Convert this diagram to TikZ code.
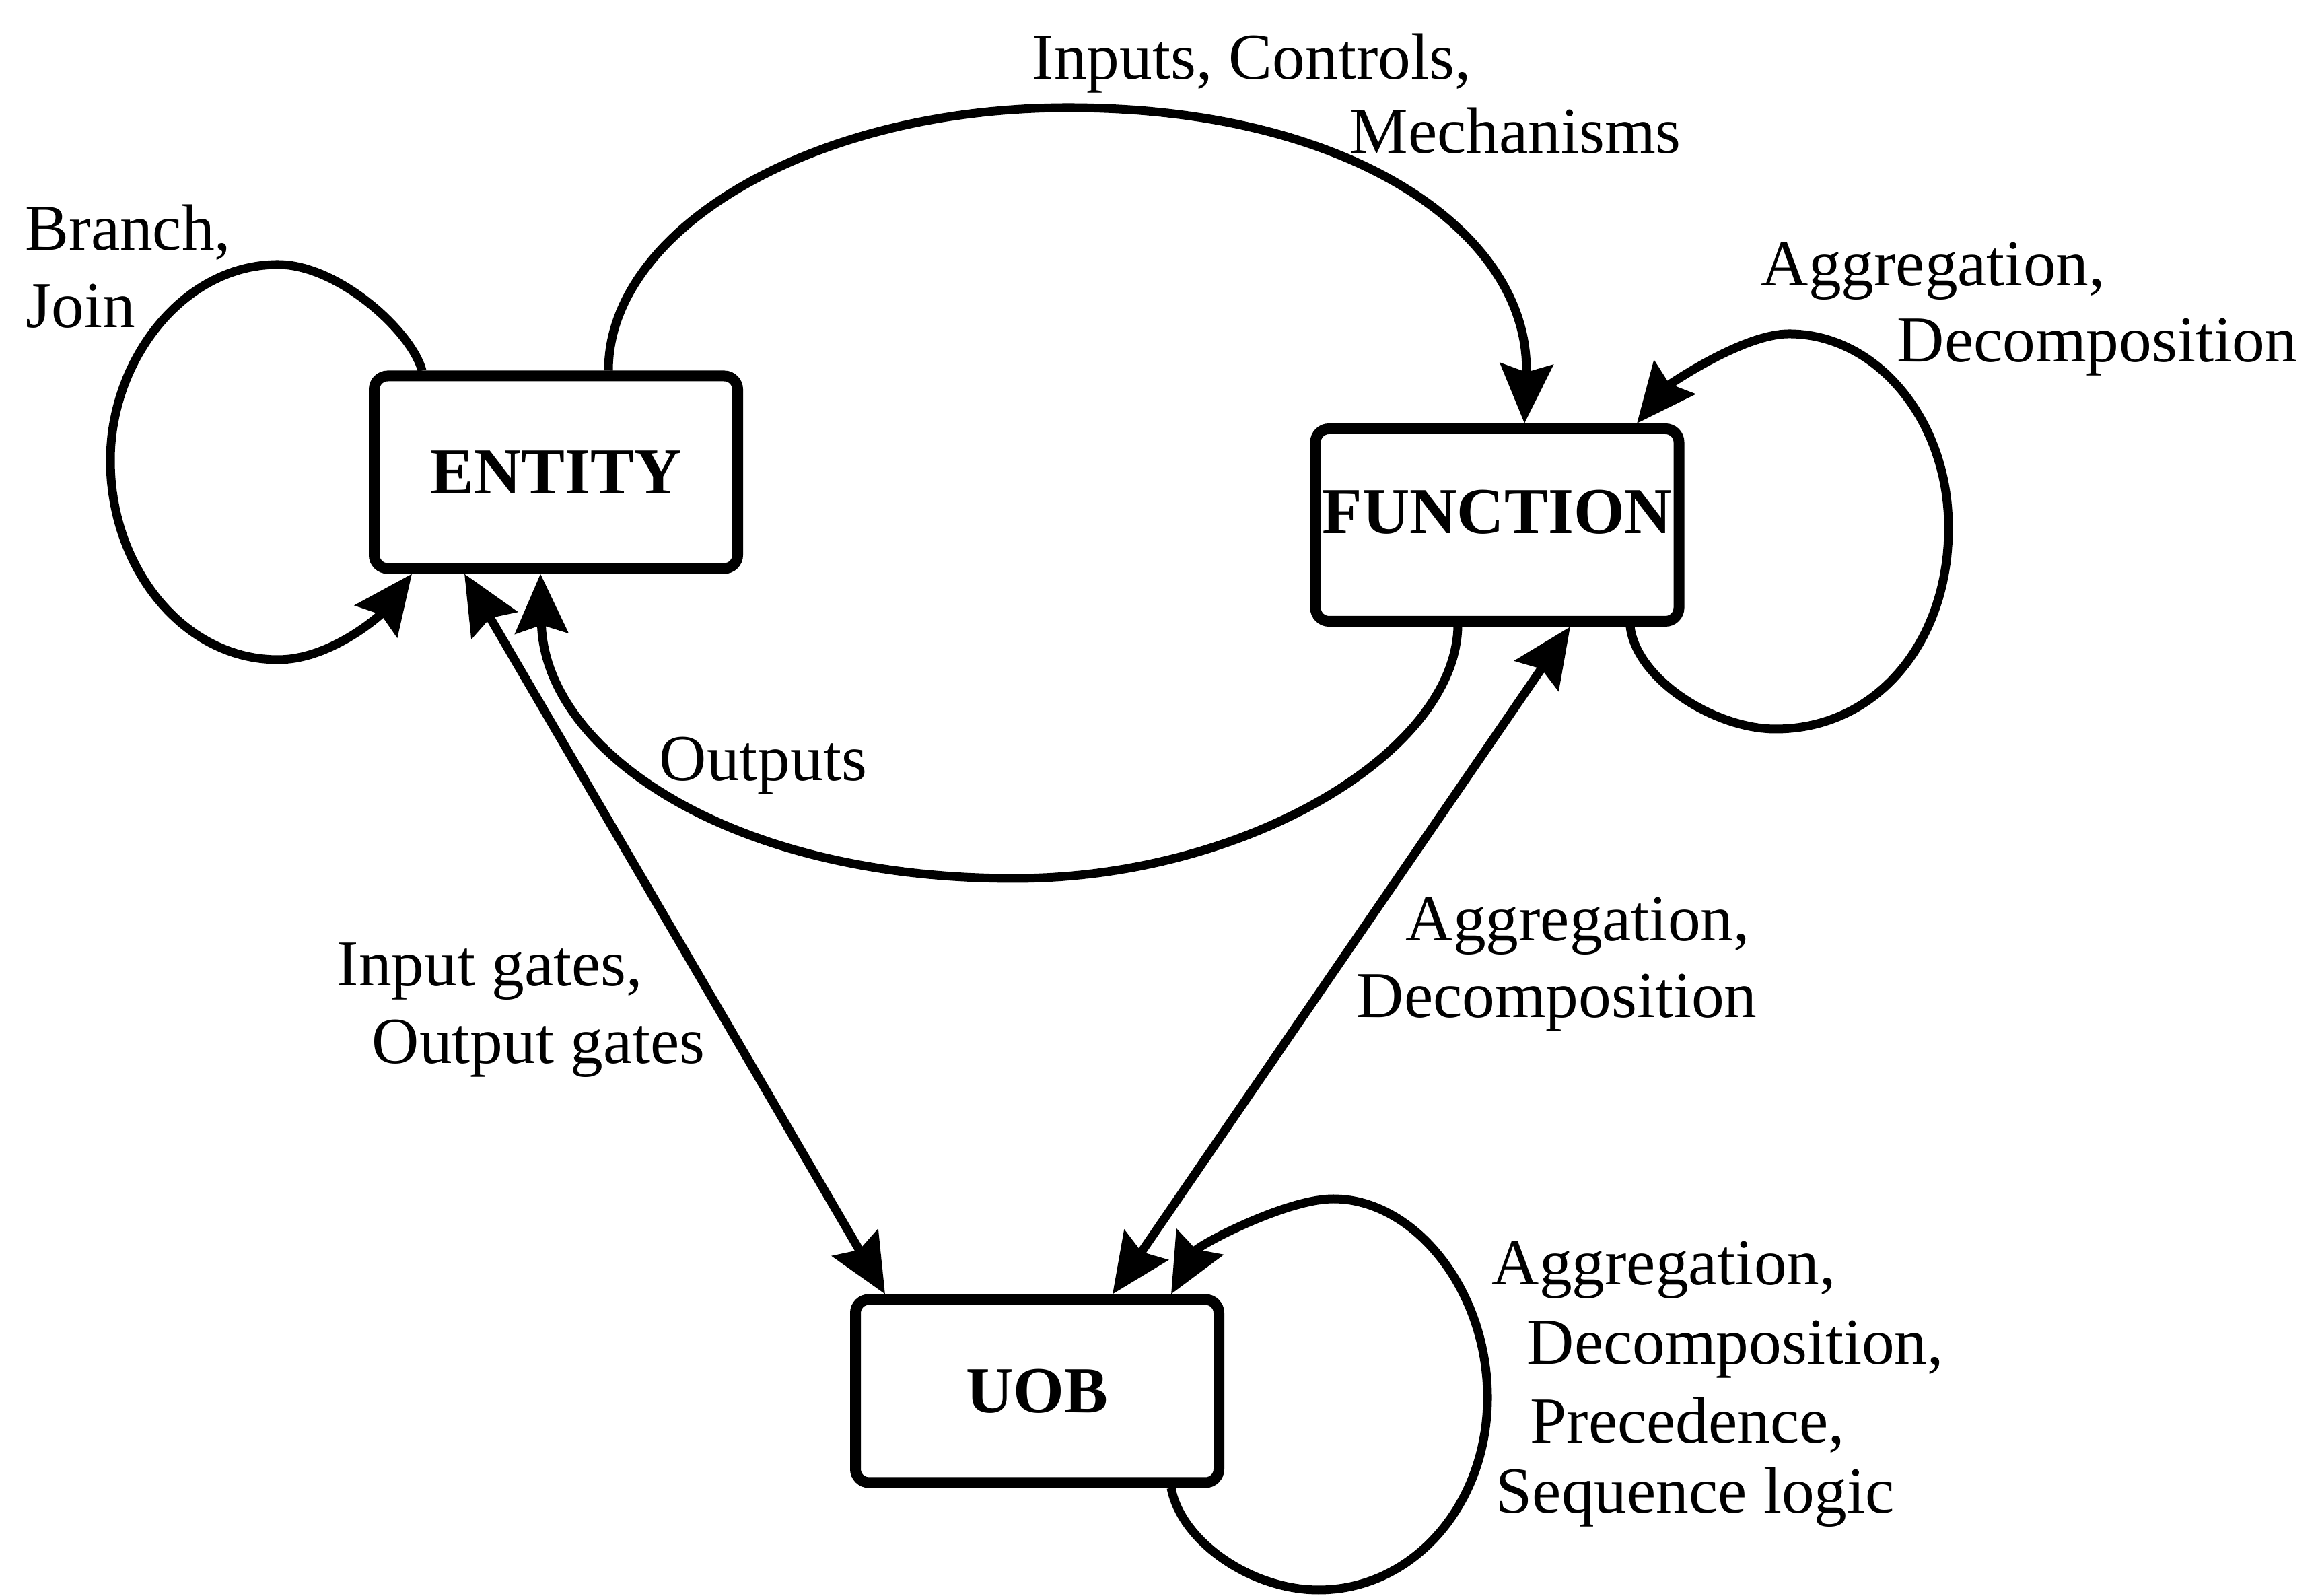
\documentclass[tikz,border=0pt]{standalone}
\usepackage{fontspec}
\setmainfont{Liberation Serif}
\usetikzlibrary{arrows.meta}
\begin{document}
\begin{tikzpicture}[
  >={Stealth[length=8.8mm,width=7.8mm,inset=1.2mm]},
  objbox/.style={draw, line width=1.6mm, rounded corners=2mm,
    minimum width=5.4cm, minimum height=2.86cm, inner sep=0pt,
    font=\fontsize{27.7}{32}\selectfont\bfseries},
  link/.style={line width=1.3mm},
  lbl/.style={anchor=base west, inner sep=0pt,
    font=\fontsize{27.7}{32}\selectfont},
]
% page
\path[use as bounding box, fill=white] (0,0) rectangle (34.44,23.70);

% object boxes
\node[objbox] (entity) at (8.26,16.685) {ENTITY};
\node[objbox] (function) at (22.245,15.90) {\raisebox{1.9mm}[\height][\depth]{FUNCTION}};
\node[objbox, minimum height=2.72cm] (uob) at (15.41,3.035) {UOB};

% attachment points on the boxes
\coordinate (eLoopOut) at ([xshift=-1.99cm]entity.north);
\coordinate (eLoopIn)  at ([xshift=-2.14cm]entity.south);
\coordinate (eIcm)     at ([xshift=0.78cm]entity.north);
\coordinate (eOutIn)   at ([xshift=-0.23cm]entity.south);
\coordinate (eGate)    at ([xshift=-1.36cm]entity.south);

\coordinate (fIcmIn)   at ([xshift=0.405cm]function.north);
\coordinate (fLoopIn)  at ([xshift=2.075cm]function.north);
\coordinate (fLoopOut) at ([xshift=1.975cm]function.south);
\coordinate (fOut)     at ([xshift=-0.585cm]function.south);
\coordinate (fAgg)     at ([xshift=1.085cm]function.south);

\coordinate (uGate)    at ([xshift=-2.26cm]uob.north);
\coordinate (uAgg)     at ([xshift=1.12cm]uob.north);
\coordinate (uLoopIn)  at ([xshift=1.99cm]uob.north);
\coordinate (uLoopOut) at ([xshift=1.99cm]uob.south);

% ENTITY self loop: Branch, Join
\draw[link,->] (eLoopOut)
  .. controls (6.12,18.77) and (5.03,19.77) .. (4.13,19.77)
  .. controls (2.73,19.77) and (1.64,18.36) .. (1.64,16.86)
  .. controls (1.64,15.26) and (2.73,13.90) .. (4.13,13.90)
  .. controls (4.93,13.90) and (5.67,14.58) .. (eLoopIn);

% ENTITY to FUNCTION: Inputs, Controls, Mechanisms
\draw[link,->] (eIcm)
  .. controls (9.04,20.31) and (12.10,22.10) .. (15.87,22.10)
  .. controls (20.17,22.10) and (22.75,20.18) .. (fIcmIn);

% FUNCTION self loop
\draw[link,->] (fLoopOut)
  .. controls (24.32,13.60) and (25.48,12.87) .. (26.38,12.87)
  .. controls (27.88,12.87) and (28.95,14.16) .. (28.95,15.86)
  .. controls (28.95,17.46) and (27.88,18.74) .. (26.58,18.74)
  .. controls (25.88,18.74) and (24.77,17.96) .. (fLoopIn);

% FUNCTION to ENTITY: Outputs
\draw[link,->] (fOut)
  .. controls (21.61,12.50) and (18.47,10.65) .. (15.07,10.65)
  .. controls (10.77,10.65) and (8.08,12.58) .. (eOutIn);

% links to UOB
\draw[link,<->] (eGate) -- (uGate);
\draw[link,<->] (fAgg) -- (uAgg);

% UOB self loop
\draw[link,->] (uLoopOut)
  .. controls (17.55,0.80) and (18.59,0.08) .. (19.59,0.08)
  .. controls (20.99,0.08) and (22.10,1.34) .. (22.10,2.94)
  .. controls (22.10,4.54) and (21.01,5.89) .. (19.81,5.89)
  .. controls (19.11,5.89) and (17.80,5.20) .. (uLoopIn);

% labels
\node[lbl] (lIcm1) at (15.33,22.52) {Inputs, Controls,};
\node[lbl] (lIcm2) at (20.05,21.42) {Mechanisms};
\node[lbl] (lBr1) at (0.37,19.98) {Branch,};
\node[lbl] (lBr2) at (0.38,18.83) {Join};
\node[lbl] (lFa1) at (26.16,19.45) {Aggregation,};
\node[lbl] (lFa2) at (28.18,18.32) {Decomposition};
\node[lbl] (lOut) at (9.79,12.10) {Outputs};
\node[lbl] (lG1) at (5.00,9.05) {Input gates,};
\node[lbl] (lG2) at (5.52,7.90) {Output gates};
\node[lbl] (lFu1) at (20.88,9.72) {Aggregation,};
\node[lbl] (lFu2) at (20.15,8.58) {Decomposition};
\node[lbl] (lU1) at (22.16,4.61) {Aggregation,};
\node[lbl] (lU2) at (22.68,3.43) {Decomposition,};
\node[lbl] (lU3) at (22.73,2.26) {Precedence,};
\node[lbl] (lU4) at (22.22,1.23) {Sequence logic};
\end{tikzpicture}
\end{document}
